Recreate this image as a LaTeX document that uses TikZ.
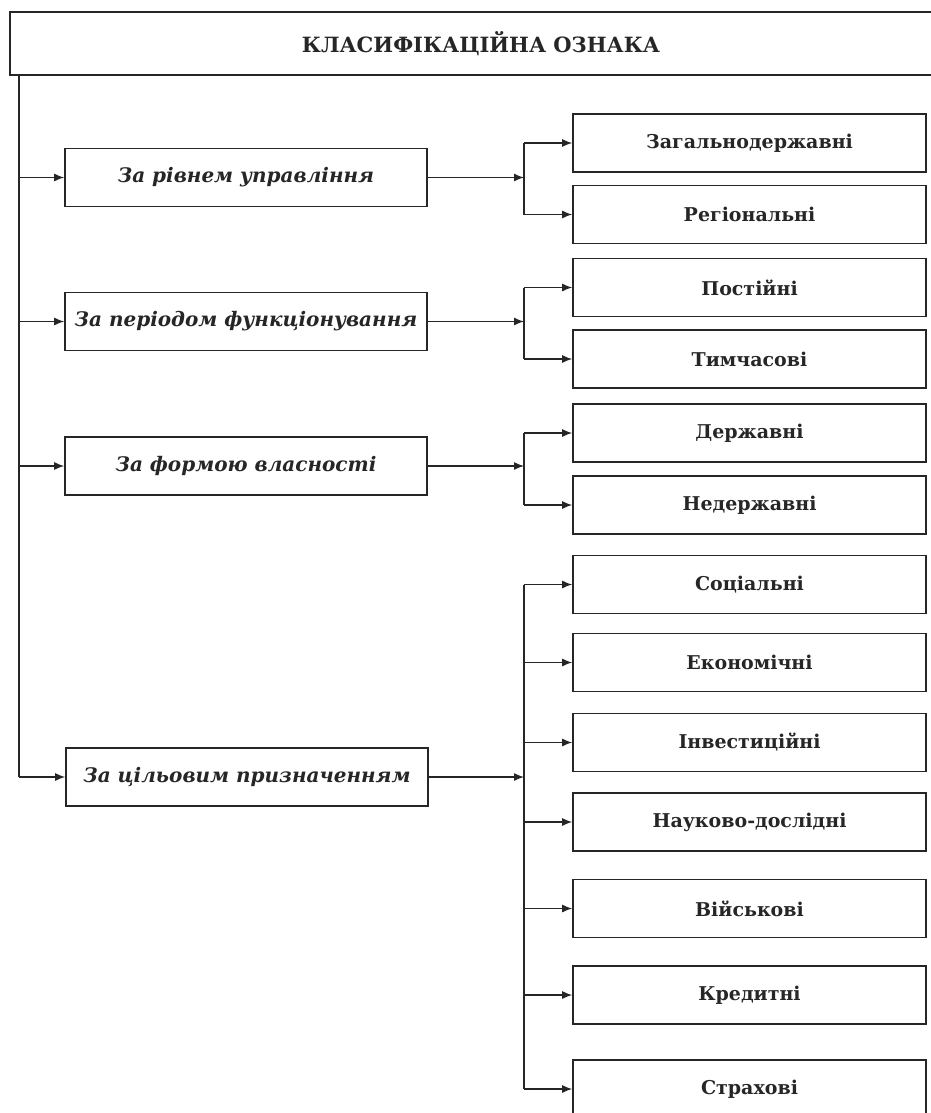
\documentclass[tikz,border=0pt]{standalone}
\usepackage{fontspec}
\setmainfont{DejaVu Serif}
\usetikzlibrary{arrows.meta}
\definecolor{ink}{HTML}{262626}
\begin{document}
\begin{tikzpicture}[x=1pt,y=-1pt,
  every node/.style={inner sep=0pt,text=ink},
  boxline/.style={draw=ink,line width=1.6pt},
  titlebox/.style={boxline,minimum width=942pt,minimum height=63pt,font=\bfseries\fontsize{21}{24}\selectfont},
  lbox/.style={boxline,minimum width=362pt,minimum height=58pt,font=\bfseries\itshape\fontsize{20}{24}\selectfont},
  rbox/.style={boxline,minimum width=353pt,minimum height=58pt,font=\bfseries\fontsize{19}{22}\selectfont},
  conn/.style={draw=ink,line width=1.3pt},
  arr/.style={conn,-{Latex[length=10pt,width=8pt]}}]
\path[use as bounding box] (0,0) rectangle (931,1113);
\node[titlebox] (title) at (481,43.5) {КЛАСИФІКАЦІЙНА ОЗНАКА};
\node[lbox] (l1) at (246,177.5) {За рівнем управління};
\node[lbox] (l2) at (246,321.5) {За періодом функціонування};
\node[lbox] (l3) at (246,466) {За формою власності};
\node[lbox] (l4) at (247,777) {За цільовим призначенням};
\node[rbox] (r1) at (749.5,143) {Загальнодержавні};
\node[rbox] (r2) at (749.5,214.5) {Регіональні};
\node[rbox] (r3) at (749.5,287.5) {Постійні};
\node[rbox] (r4) at (749.5,359) {Тимчасові};
\node[rbox] (r5) at (749.5,433) {Державні};
\node[rbox] (r6) at (749.5,505) {Недержавні};
\node[rbox] (r7) at (749.5,584.5) {Соціальні};
\node[rbox] (r8) at (749.5,662.5) {Економічні};
\node[rbox] (r9) at (749.5,742.5) {Інвестиційні};
\node[rbox] (r10) at (749.5,822) {Науково-дослідні};
\node[rbox] (r11) at (749.5,908.5) {Військові};
\node[rbox] (r12) at (749.5,995) {Кредитні};
\node[rbox] (r13) at (749.5,1089) {Страхові};
\coordinate (trunk) at (19,0);
\coordinate (br) at (524,0);
% left trunk
\draw[conn] (title.south -| trunk) -- (l4.west -| trunk);
\foreach \n in {l1,l2,l3,l4} \draw[arr] (\n.west -| trunk) -- (\n.west);
% branches
\draw[arr] (l1.east) -- (l1.east -| br);
\draw[conn] (r1.west -| br) -- (r2.west -| br);
\draw[arr] (r1.west -| br) -- (r1.west);
\draw[arr] (r2.west -| br) -- (r2.west);
\draw[arr] (l2.east) -- (l2.east -| br);
\draw[conn] (r3.west -| br) -- (r4.west -| br);
\draw[arr] (r3.west -| br) -- (r3.west);
\draw[arr] (r4.west -| br) -- (r4.west);
\draw[arr] (l3.east) -- (l3.east -| br);
\draw[conn] (r5.west -| br) -- (r6.west -| br);
\draw[arr] (r5.west -| br) -- (r5.west);
\draw[arr] (r6.west -| br) -- (r6.west);
\draw[arr] (l4.east) -- (l4.east -| br);
\draw[conn] (r7.west -| br) -- (r13.west -| br);
\foreach \n in {r7,r8,r9,r10,r11,r12,r13} \draw[arr] (\n.west -| br) -- (\n.west);
\end{tikzpicture}
\end{document}
